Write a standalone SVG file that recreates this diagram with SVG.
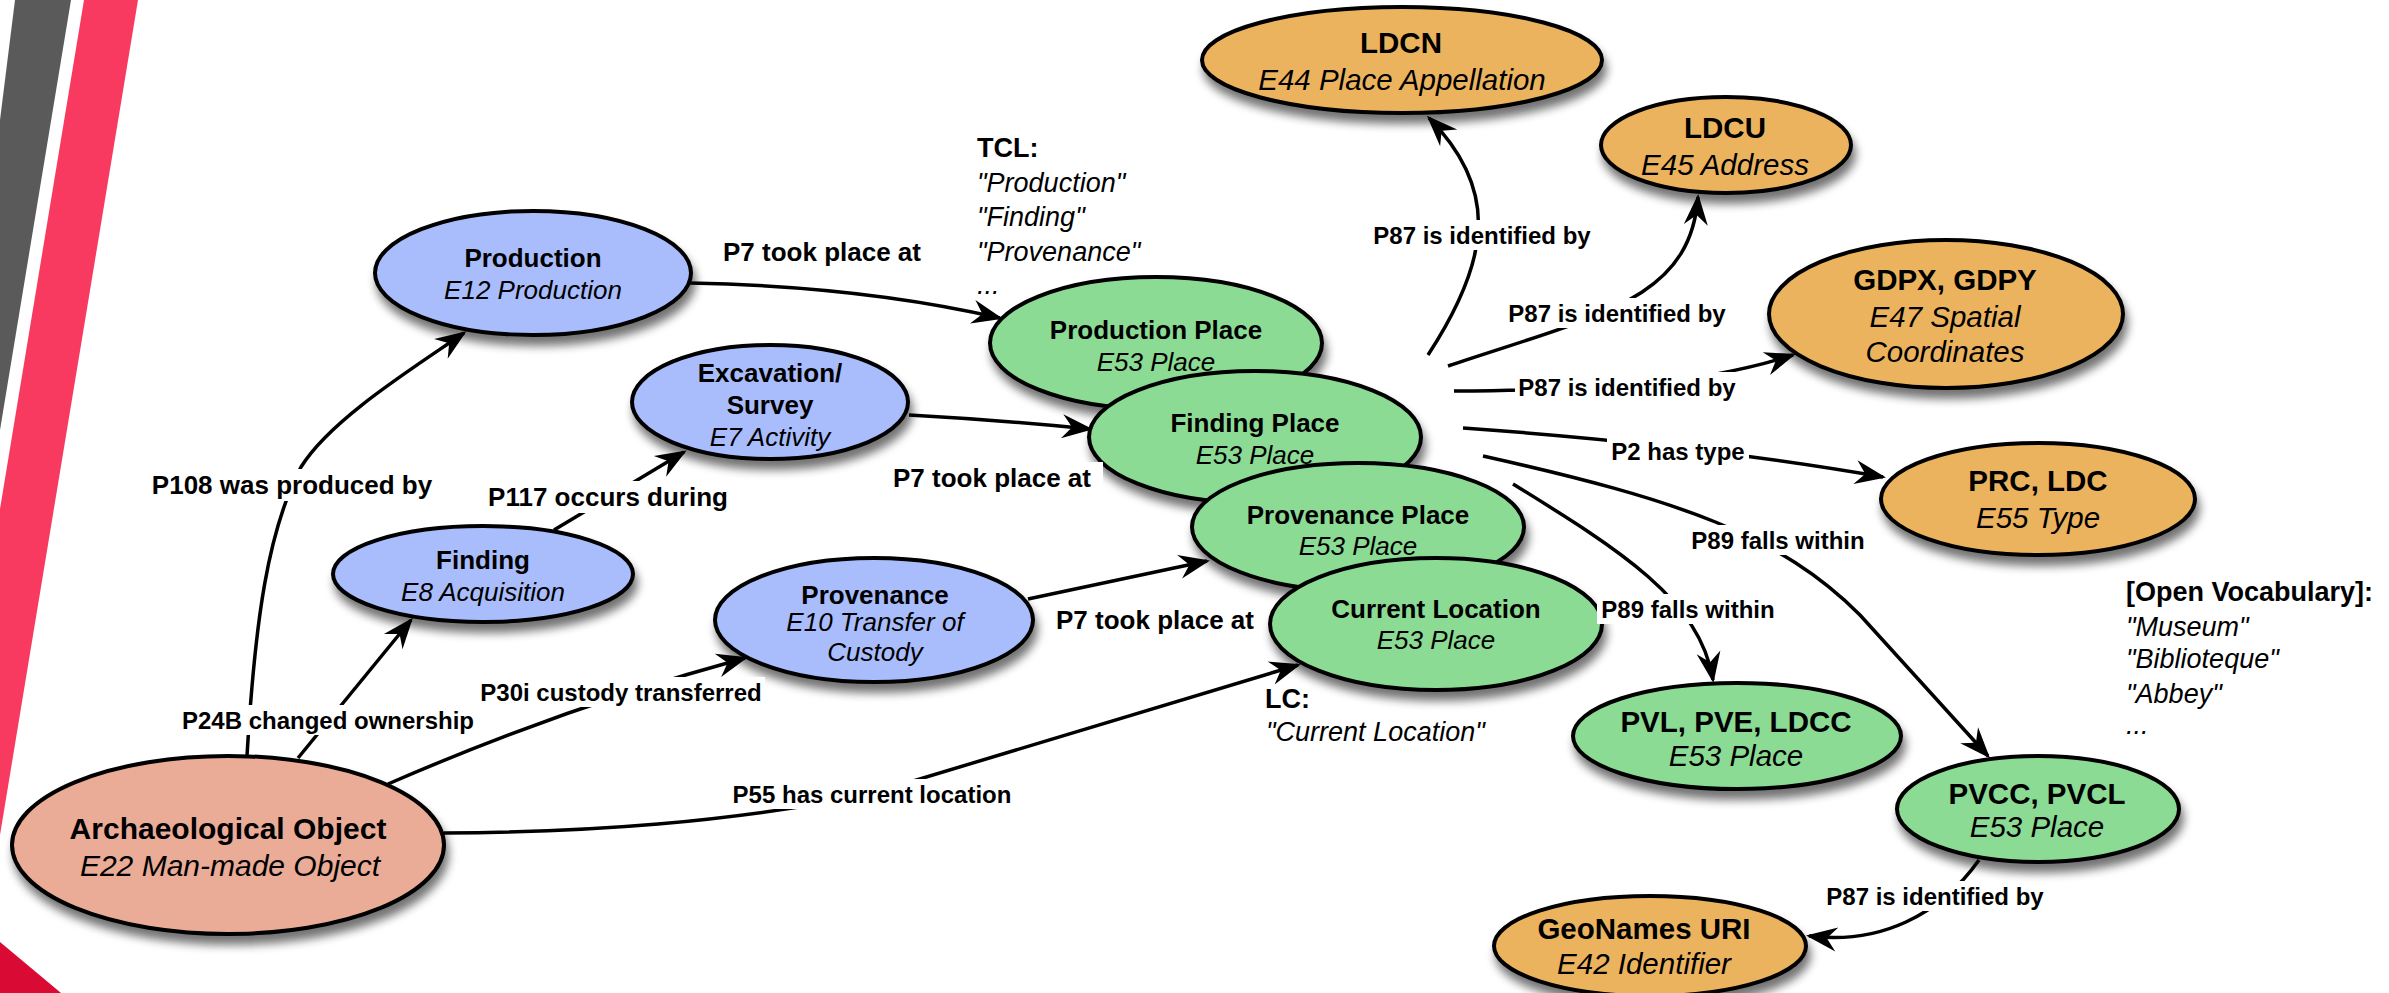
<svg xmlns="http://www.w3.org/2000/svg" width="2389" height="993" viewBox="0 0 2389 993">
<defs>
<style>
.bgw{fill:#fff}
.node ellipse{stroke:#000;stroke-width:4;filter:url(#shadow)}
.blue{fill:#a9bdfd}
.green{fill:#8bdb95}
.orange{fill:#ecb35e}
.salmon{fill:#eaab97}
text{font-family:"Liberation Sans",Arial,Helvetica,sans-serif;fill:#000}
.node text{text-anchor:middle}
.b{font-weight:bold}
.i{font-style:italic}
.s26{font-size:26px}
.s29{font-size:29.5px}
.s30{font-size:30px}
.edge{fill:none;stroke:#000;stroke-width:3.5;marker-end:url(#arrow)}
.lbl text{font-weight:bold;font-size:24px;text-anchor:middle}
.lbl text.big{font-size:26px}
.lbl rect{fill:#fff}
.ann{font-size:27px}
</style>
<marker id="arrow" markerUnits="userSpaceOnUse" markerWidth="40" markerHeight="30" viewBox="-34 -15 38 30" refX="-3" refY="0" orient="auto">
<path d="M0,0 L-31,-12 L-21,0 L-31,12 Z" fill="#000"/>
</marker>
<filter id="shadow" x="-20%" y="-20%" width="140%" height="170%">
<feGaussianBlur in="SourceAlpha" stdDeviation="5"/>
<feOffset dx="3" dy="9" result="o"/>
<feComponentTransfer><feFuncA type="linear" slope="0.55"/></feComponentTransfer>
<feMerge><feMergeNode/><feMergeNode in="SourceGraphic"/></feMerge>
</filter>
</defs>
<rect class="bgw" x="0" y="0" width="2389" height="993"/>
<g id="decoration">
<polygon points="15,0 71,0 0,430 0,120" fill="#5a5a5a"/>
<polygon points="84,0 138,0 0,835 0,509" fill="#f93a60"/>
<polygon points="0,942 61,993 0,993" fill="#d90a34"/>
</g>
<g id="connectors">
<path class="edge" d="M247,756 C255,620 268,530 301,467 C330,420 410,370 464,333"/>
<path class="edge" d="M298,758 L411,620"/>
<path class="edge" d="M388,784 Q565,707 745,658"/>
<path class="edge" d="M444,833 C600,832 720,822 860,797 L1298,665"/>
<path class="edge" d="M554,530 L684,452"/>
<path class="edge" d="M690,283 C800,285 900,295 1000,318"/>
<path class="edge" d="M909,415 Q1000,420 1090,429"/>
<path class="edge" d="M1028,599 L1207,561"/>
<path class="edge" d="M1428,355 C1490,260 1500,190 1429,118"/>
<path class="edge" d="M1448,366 C1600,315 1690,300 1698,197"/>
<path class="edge" d="M1454,391 C1600,390 1700,385 1793,355"/>
<path class="edge" d="M1463,428 Q1700,445 1883,477"/>
<path class="edge" d="M1483,456 C1680,500 1780,535 1860,615 L1988,756"/>
<path class="edge" d="M1513,484 C1620,550 1700,600 1713,680"/>
<path class="edge" d="M1979,860 C1940,915 1880,945 1809,936"/>
</g>
<g id="archaeological-object" class="node">
<ellipse class="salmon" cx="228" cy="845" rx="216" ry="89"/>
<text class="b s30" x="228" y="839">Archaeological Object</text>
<text class="i s30" x="230" y="876">E22 Man-made Object</text>
</g>
<g id="production" class="node">
<ellipse class="blue" cx="533" cy="273" rx="158" ry="62"/>
<text class="b s26" x="533" y="267">Production</text>
<text class="i s26" x="533" y="299">E12 Production</text>
</g>
<g id="excavation" class="node">
<ellipse class="blue" cx="770" cy="402" rx="138" ry="57"/>
<text class="b s26" x="770" y="382">Excavation/</text>
<text class="b s26" x="770" y="414">Survey</text>
<text class="i s26" x="770" y="446">E7 Activity</text>
</g>
<g id="finding" class="node">
<ellipse class="blue" cx="483" cy="574" rx="150" ry="48"/>
<text class="b s26" x="483" y="569">Finding</text>
<text class="i s26" x="483" y="601">E8 Acquisition</text>
</g>
<g id="provenance" class="node">
<ellipse class="blue" cx="874" cy="620" rx="159" ry="62"/>
<text class="b s26" x="875" y="604">Provenance</text>
<text class="i s26" x="875" y="631">E10 Transfer of</text>
<text class="i s26" x="875" y="661">Custody</text>
</g>
<g id="production-place" class="node">
<ellipse class="green" cx="1156" cy="343" rx="166" ry="66"/>
<text class="b s26" x="1156" y="339">Production Place</text>
<text class="i s26" x="1156" y="371">E53 Place</text>
</g>
<g id="finding-place" class="node">
<ellipse class="green" cx="1255" cy="437" rx="166" ry="66"/>
<text class="b s26" x="1255" y="432">Finding Place</text>
<text class="i s26" x="1255" y="464">E53 Place</text>
</g>
<g id="provenance-place" class="node">
<ellipse class="green" cx="1358" cy="527" rx="166" ry="64"/>
<text class="b s26" x="1358" y="524">Provenance Place</text>
<text class="i s26" x="1358" y="555">E53 Place</text>
</g>
<g id="current-location" class="node">
<ellipse class="green" cx="1436" cy="624" rx="166" ry="66"/>
<text class="b s26" x="1436" y="618">Current Location</text>
<text class="i s26" x="1436" y="649">E53 Place</text>
</g>
<g id="ldcn" class="node">
<ellipse class="orange" cx="1402" cy="60" rx="200" ry="53"/>
<text class="b s29" x="1401" y="53">LDCN</text>
<text class="i s29" x="1402" y="90">E44 Place Appellation</text>
</g>
<g id="ldcu" class="node">
<ellipse class="orange" cx="1726" cy="145" rx="125" ry="48"/>
<text class="b s29" x="1725" y="138">LDCU</text>
<text class="i s29" x="1725" y="175">E45 Address</text>
</g>
<g id="gdpx-gdpy" class="node">
<ellipse class="orange" cx="1946" cy="314" rx="177" ry="74"/>
<text class="b s29" x="1945" y="290">GDPX, GDPY</text>
<text class="i s29" x="1945" y="327">E47 Spatial</text>
<text class="i s29" x="1945" y="362">Coordinates</text>
</g>
<g id="prc-ldc" class="node">
<ellipse class="orange" cx="2038" cy="499" rx="157" ry="56"/>
<text class="b s29" x="2038" y="491">PRC, LDC</text>
<text class="i s29" x="2038" y="528">E55 Type</text>
</g>
<g id="pvl-pve-ldcc" class="node">
<ellipse class="green" cx="1737" cy="736" rx="164" ry="53"/>
<text class="b s29" x="1736" y="732">PVL, PVE, LDCC</text>
<text class="i s29" x="1736" y="766">E53 Place</text>
</g>
<g id="pvcc-pvcl" class="node">
<ellipse class="green" cx="2038" cy="809" rx="141" ry="53"/>
<text class="b s29" x="2037" y="804">PVCC, PVCL</text>
<text class="i s29" x="2037" y="837">E53 Place</text>
</g>
<g id="geonames-uri" class="node">
<ellipse class="orange" cx="1650" cy="946" rx="156" ry="50"/>
<text class="b s29" x="1644" y="939">GeoNames URI</text>
<text class="i s29" x="1644" y="974">E42 Identifier</text>
</g>
<g id="connector-labels" class="lbl">
<rect x="718" y="236" width="208" height="32"/><text class="big" x="822" y="261">P7 took place at</text>
<rect x="147" y="469" width="290" height="32"/><text class="big" x="292" y="494">P108 was produced by</text>
<rect x="484" y="481" width="248" height="32"/><text class="big" x="608" y="506">P117 occurs during</text>
<rect x="178" y="705" width="300" height="30"/><text x="328" y="728.5">P24B changed ownership</text>
<rect x="477" y="677" width="288" height="30"/><text x="621" y="701">P30i custody transferred</text>
<rect x="730" y="779" width="285" height="30"/><text x="872" y="803">P55 has current location</text>
<rect x="887" y="462" width="216" height="31"/><text class="big" x="992" y="487">P7 took place at</text>
<rect x="1050" y="604" width="212" height="32"/><text class="big" x="1155" y="629">P7 took place at</text>
<rect x="1370" y="220" width="224" height="30"/><text x="1482" y="243.5">P87 is identified by</text>
<rect x="1505" y="298" width="224" height="30"/><text x="1617" y="321.5">P87 is identified by</text>
<rect x="1515" y="372" width="224" height="30"/><text x="1627" y="395.5">P87 is identified by</text>
<rect x="1607" y="436" width="142" height="30"/><text x="1678" y="459.5">P2 has type</text>
<rect x="1688" y="525" width="180" height="30"/><text x="1778" y="548.5">P89 falls within</text>
<rect x="1597" y="594" width="182" height="30"/><text x="1688" y="617.5">P89 falls within</text>
<rect x="1823" y="881" width="224" height="30"/><text x="1935" y="905">P87 is identified by</text>
</g>
<g id="annotations">
<text class="ann" x="977"><tspan class="b" x="977" y="157">TCL:</tspan><tspan class="i" x="977" y="192">"Production"</tspan><tspan class="i" x="977" y="226">"Finding"</tspan><tspan class="i" x="977" y="261">"Provenance"</tspan><tspan class="i" x="977" y="294">...</tspan></text>
<text class="ann" x="1265"><tspan class="b" x="1265" y="708">LC:</tspan><tspan class="i" x="1266" y="741">"Current Location"</tspan></text>
<text class="ann" x="2126"><tspan class="b" x="2126" y="601">[Open Vocabulary]:</tspan><tspan class="i" x="2126" y="636">"Museum"</tspan><tspan class="i" x="2126" y="668">"Biblioteque"</tspan><tspan class="i" x="2126" y="703">"Abbey"</tspan><tspan class="i" x="2126" y="734">...</tspan></text>
</g>
</svg>
